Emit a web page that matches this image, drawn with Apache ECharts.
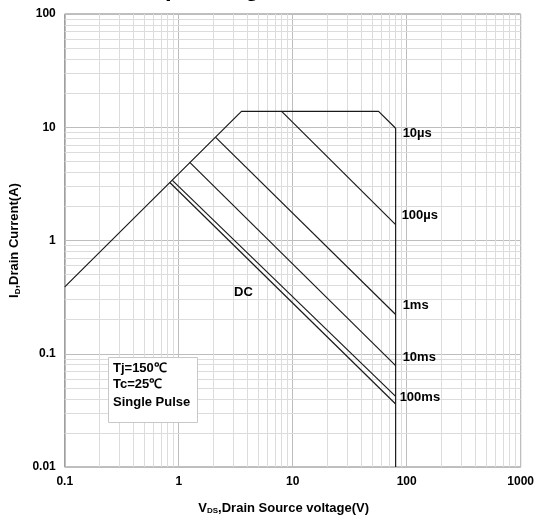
<!DOCTYPE html>
<html>
<head>
<meta charset="utf-8">
<script src="https://cdn.jsdelivr.net/npm/echarts@6/dist/echarts.min.js"></script>
<style>
html, body { margin: 0; padding: 0; background: #fff; }
#chart { width: 537px; height: 520px; }
</style>
</head>
<body>
<div id="chart"></div>
<script>
// safe operating area, V in volts, I in amps
const limitV = [0.1, 3.55, 56.7, 80, 80];
const limitI = [0.39, 13.8, 13.8, 9.8, 0.01];
const us100V = [8.0, 80];
const us100I = [13.8, 1.38];
const ms1V = [2.11, 80];
const ms1I = [8.15, 0.222];
const ms10V = [1.25, 80];
const ms10I = [4.9, 0.0786];
const ms100V = [0.88, 80];
const ms100I = [3.4, 0.042];
const dcV = [0.835, 80];
const dcI = [3.25, 0.036];

const curveNames = ['10µs', '100µs', '1ms', '10ms', '100ms'];
const curveEndV = [80, 80, 80, 80, 80];
const curveEndI = [9.8, 1.38, 0.222, 0.0786, 0.042];
const dcLabelAt = [3.7, 0.35];

const xMin = 0.1, xMax = 1000;
const yMin = 0.01, yMax = 100;

const FONT = 'Liberation Sans, Arial, sans-serif';
const LINE = '#1a1a1a';

function pts(v, i) {
  return v.map((x, k) => [x, i[k]]);
}

// minor grid lines 2..9 in each decade
function minorVals(lo, hi) {
  let out = [];
  for (let d = lo; d < hi; d *= 10) {
    for (let m = 2; m <= 9; m++) out.push(+(d * m).toPrecision(3));
  }
  return out;
}
const minorX = minorVals(xMin, xMax);
const minorY = minorVals(yMin, yMax);

function curve(name, data) {
  return {
    name: name,
    type: 'line',
    data: data,
    symbol: 'none',
    z: 5,
    silent: true,
    lineStyle: { color: LINE, width: 1.2 },
    animation: false
  };
}

function boldText(s, x, y, extra) {
  return Object.assign({
    type: 'text', x: x, y: y, z: 100, silent: true,
    style: { text: s, fontFamily: FONT, fontWeight: 'bold', fontSize: 13, fill: '#000', verticalAlign: 'middle' }
  }, extra || {});
}

// title sits mostly above the canvas, only descenders show
const baseGraphic = [
  {
    id: 'title', type: 'text', left: 89, top: -23, silent: true,
    style: { text: 'Safe Operating Area', fontFamily: FONT, fontWeight: 'bold', fontSize: 24, fill: '#000' }
  },
  { id: 'box', type: 'rect', z: 100, silent: true,
    shape: { x: 108.5, y: 357.5, width: 89, height: 65 },
    style: { fill: '#fff', stroke: '#c8c8c8', lineWidth: 1 } },
  Object.assign(boldText('Tj=150℃', 113, 368), { id: 'tj' }),
  Object.assign(boldText('Tc=25℃', 113, 384), { id: 'tc' }),
  Object.assign(boldText('Single Pulse', 113, 402), { id: 'sp' })
];

let option = {
  animation: false,
  grid: {
    left: 59, right: 15, top: 14, bottom: 51,
    show: true, borderColor: '#808080', borderWidth: 1
  },
  xAxis: {
    type: 'log', logBase: 10, min: xMin, max: xMax,
    axisLine: { show: false },
    axisTick: { show: false },
    splitLine: { show: true, lineStyle: { color: '#bdbdbd', width: 1 } },
    axisLabel: {
      margin: 9, color: '#000', fontFamily: FONT, fontWeight: 'bold', fontSize: 12,
      formatter: v => String(+v.toPrecision(3))
    },
    name: '{a|V}{b|DS}{a|,Drain Source voltage(V)}',
    nameLocation: 'middle',
    nameGap: 34,
    nameTextStyle: {
      padding: [0, 18, 0, 0],
      rich: {
        a: { fontFamily: FONT, fontWeight: 'bold', fontSize: 13, color: '#000' },
        b: { fontFamily: FONT, fontWeight: 'bold', fontSize: 8, color: '#000', padding: [6, 0, 0, 0] }
      }
    }
  },
  yAxis: {
    type: 'log', logBase: 10, min: yMin, max: yMax,
    axisLine: { show: false },
    axisTick: { show: false },
    splitLine: { show: true, lineStyle: { color: '#bdbdbd', width: 1 } },
    axisLabel: {
      margin: 9, color: '#000', fontFamily: FONT, fontWeight: 'bold', fontSize: 12,
      formatter: v => String(+v.toPrecision(3))
    },
    name: '{a|I}{b|D}{a|,Drain Current(A)}',
    nameLocation: 'middle',
    nameRotate: 90,
    nameGap: 31,
    nameTextStyle: {
      rich: {
        a: { fontFamily: FONT, fontWeight: 'bold', fontSize: 13, color: '#000' },
        b: { fontFamily: FONT, fontWeight: 'bold', fontSize: 8, color: '#000', padding: [6, 0, 0, 0] }
      }
    }
  },
  graphic: baseGraphic,
  series: [
    {
      name: 'minor grid',
      type: 'line',
      data: [],
      z: 1,
      silent: true,
      markLine: {
        silent: true,
        symbol: ['none', 'none'],
        label: { show: false },
        animation: false,
        lineStyle: { color: '#dcdcdc', width: 1, type: 'solid' },
        data: minorX.map(v => ({ xAxis: v })).concat(minorY.map(v => ({ yAxis: v })))
      }
    },
    curve('10µs', pts(limitV, limitI)),
    curve('100µs', pts(us100V, us100I)),
    curve('1ms', pts(ms1V, ms1I)),
    curve('10ms', pts(ms10V, ms10I)),
    curve('100ms', pts(ms100V, ms100I)),
    curve('DC', pts(dcV, dcI))
  ]
};

let myChart = echarts.init(document.getElementById('chart'));
myChart.setOption(option);

// curve labels placed next to where each curve meets the 80V limit
const labelOffsets = [[7, 5], [6, -9], [7, -9], [7, -8], [4, 1]];
let labels = curveNames.map((n, k) => {
  let p = myChart.convertToPixel({ gridIndex: 0 }, [curveEndV[k], curveEndI[k]]);
  return Object.assign(boldText(n, p[0] + labelOffsets[k][0], p[1] + labelOffsets[k][1]), { id: 'lab' + k });
});
let dcp = myChart.convertToPixel({ gridIndex: 0 }, dcLabelAt);
labels.push(Object.assign(boldText('DC', dcp[0], dcp[1]), { id: 'labdc', style: {
  text: 'DC', fontFamily: FONT, fontWeight: 'bold', fontSize: 13, fill: '#000', verticalAlign: 'middle', align: 'center'
} }));
myChart.setOption({ graphic: baseGraphic.concat(labels) });
</script>
</body>
</html>
